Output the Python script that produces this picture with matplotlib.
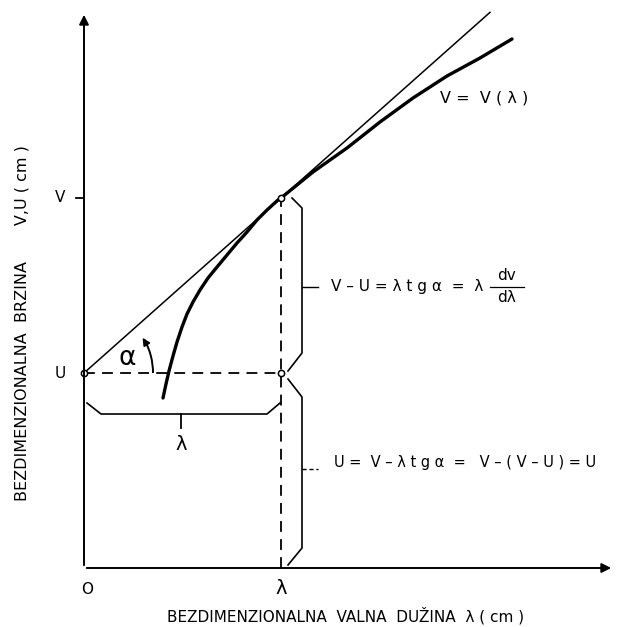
import matplotlib
matplotlib.use("Agg")
import matplotlib.pyplot as plt
import numpy as np
from matplotlib.patches import Arc

# ---- data (diagram units) ----
U_val = 195
V_val = 370
lam_val = 197
curve_x = [79, 82, 85, 89, 93, 98, 103, 109, 116, 124, 133, 143, 153, 163, 173, 183,
           194, 197, 229, 263, 296, 329, 363, 396, 428]
curve_y = [170, 184, 197, 212, 226, 241, 254, 266, 278, 290, 301, 313, 325, 336, 348, 358,
           368, 370, 396, 420, 446, 470, 492, 510, 529]
tangent_end_x = 406
x_axis_end = 530
y_axis_end = 556

plt.rcParams['font.family'] = ['DejaVu Sans']
fig = plt.figure(figsize=(6.26, 6.27), dpi=100)
ax = fig.add_axes([0, 0, 1, 1])
ax.set_xlim(-84, 542)
ax.set_ylim(-59, 568)
ax.axis('off')

k = 'black'
# axes with arrows
ax.annotate('', xy=(x_axis_end, 0), xytext=(0, 0),
            arrowprops=dict(arrowstyle='-|>', color=k, lw=1.4, mutation_scale=14))
ax.annotate('', xy=(0, y_axis_end), xytext=(0, 0),
            arrowprops=dict(arrowstyle='-|>', color=k, lw=1.4, mutation_scale=14))

# tick mark V
ax.plot([-8, 0], [V_val, V_val], color=k, lw=1.3)

# tangent line
slope = (V_val - U_val) / lam_val
ax.plot([0, tangent_end_x], [U_val, U_val + slope * tangent_end_x], color=k, lw=1.1)

# curve V = V(lambda)
ax.plot(curve_x, curve_y, color=k, lw=2.4, solid_capstyle='round', solid_joinstyle='round')

# dashed lines
ax.plot([lam_val, lam_val], [0, V_val], color=k, lw=1.3, ls=(0, (6, 4)))
ax.plot([0, lam_val], [U_val, U_val], color=k, lw=1.3, ls=(0, (6, 4)))

# small circles
ax.plot([0, lam_val, lam_val], [U_val, V_val, U_val], 'o', ms=4.5, mfc='white', mec=k, mew=1.1)

# angle arc with arrow
ax.add_patch(Arc((0, U_val), 138, 138, theta1=0, theta2=29, color=k, lw=1.4))
ang = np.deg2rad(31)
ax.annotate('', xy=(69 * np.cos(ang) - 2, U_val + 69 * np.sin(ang) + 2),
            xytext=(69 * np.cos(np.deg2rad(24)), U_val + 69 * np.sin(np.deg2rad(24))),
            arrowprops=dict(arrowstyle='-|>', color=k, lw=1.2, mutation_scale=11))
ax.text(43, U_val + 15, 'α', fontsize=19, ha='center', va='center')

# right brace 1 (V..U)
bx = 218
ax.plot([208, bx, bx, 204], [V_val, V_val - 10, U_val + 20, U_val + 2], color=k, lw=1.2)
ax.plot([bx, bx + 16], [281, 281], color=k, lw=1.0)
# right brace 2 (U..0)
ax.plot([204, bx, bx, 204], [U_val - 6, U_val - 24, 20, 3], color=k, lw=1.2)
ax.plot([bx, bx + 16], [99, 99], color=k, lw=1.0, ls=(0, (3, 2)))
# bottom brace under lambda
ax.plot([3, 17, 183, 196], [165, 154, 154, 165], color=k, lw=1.2)
ax.plot([97, 97], [154, 140], color=k, lw=1.3)

# labels
fs = 11
ax.text(-24, V_val, 'V', fontsize=fs, ha='center', va='center')
ax.text(-24, U_val, 'U', fontsize=fs, ha='center', va='center')
ax.text(3, -22, 'O', fontsize=fs, ha='center', va='center')
ax.text(lam_val, -21, 'λ', fontsize=14, ha='center', va='center')
ax.text(97, 123, 'λ', fontsize=14, ha='center', va='center')
ax.text(356, 470, 'V =  V ( λ )', fontsize=11.5, ha='left', va='center')

ax.text(247, 281, 'V – U = λ t g α  =  λ', fontsize=11, ha='left', va='center')
ax.text(422, 293, 'dv', fontsize=11, ha='center', va='center')
ax.text(422, 270, 'dλ', fontsize=11, ha='center', va='center')
ax.plot([406, 440], [281, 281], color=k, lw=0.9)

ax.text(250, 105, 'U =  V – λ t g α  =   V – ( V – U ) = U', fontsize=10.5, ha='left', va='center')

ax.text(-62, 245, 'BEZDIMENZIONALNA  BRZINA       V,U ( cm )',
        fontsize=11.5, rotation=90, ha='center', va='center')
ax.text(262, -48, 'BEZDIMENZIONALNA  VALNA  DUŽINA  λ ( cm )',
        fontsize=11, ha='center', va='center')

fig.savefig('out.png', dpi=100, facecolor='white')
